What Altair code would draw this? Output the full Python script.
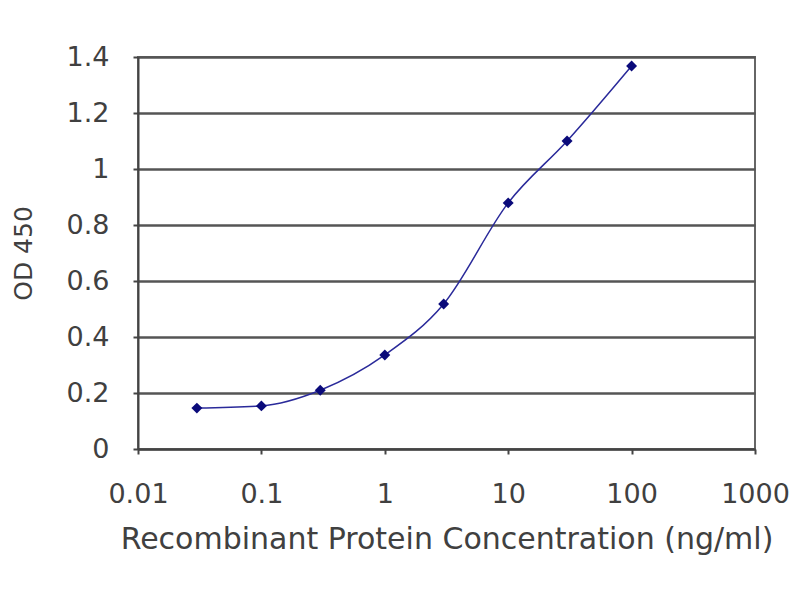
import altair as alt
import pandas as pd

conc = [0.03, 0.1, 0.3, 1, 3, 10, 30, 100]
od = [0.146, 0.154, 0.21, 0.336, 0.518, 0.879, 1.10, 1.368]

x_ticks = [0.01, 0.1, 1, 10, 100, 1000]
y_ticks = [0, 0.2, 0.4, 0.6, 0.8, 1.0, 1.2, 1.4]

df = pd.DataFrame({"conc": conc, "od": od})

FONT = "DejaVu Sans"
TXT = "#404040"
FS = 27

x_enc = alt.X(
    "conc:Q",
    scale=alt.Scale(type="log", domain=[0.01, 1000]),
    axis=alt.Axis(
        title="Recombinant Protein Concentration (ng/ml)",
        values=x_ticks,
        format="~g",
        grid=False,
        domainColor="#444444",
        domainWidth=2,
        tickColor="#444444",
        tickWidth=2,
        tickSize=5,
        labelFont=FONT,
        labelFontSize=FS,
        labelColor=TXT,
        labelPadding=27,
        titleFont=FONT,
        titleFontSize=30,
        titleFontWeight="normal",
        titleColor=TXT,
        titlePadding=17,
        labelFlush=False,
    ),
)

y_enc = alt.Y(
    "od:Q",
    scale=alt.Scale(domain=[0, 1.4]),
    axis=alt.Axis(
        title="OD 450",
        values=y_ticks,
        format="~g",
        grid=True,
        gridColor="#555555",
        gridWidth=2.5,
        domainColor="#444444",
        domainWidth=2,
        tickColor="#444444",
        tickWidth=2,
        tickSize=5,
        labelFont=FONT,
        labelFontSize=FS,
        labelColor=TXT,
        labelPadding=24,
        titleFont=FONT,
        titleFontSize=25,
        titleFontWeight="normal",
        titleColor=TXT,
        titlePadding=30,
    ),
)

line = alt.Chart(df).mark_line(
    color="#2a2a9a", strokeWidth=1.5, interpolate="monotone"
).encode(x=x_enc, y=y_enc)

pts = alt.Chart(df).mark_point(
    shape="diamond", filled=True, color="#0a0a7a", size=120, opacity=1
).encode(x="conc:Q", y="od:Q")

chart = (
    alt.layer(line, pts)
    .properties(
        width=617,
        height=392,
        autosize=alt.AutoSizeParams(type="none"),
        padding={"left": 130, "top": 49, "right": 37, "bottom": 143},
        background="white",
    )
    .configure_view(stroke="#666666", strokeWidth=2)
)

chart.save("out.html", embed_options={"renderer": "svg", "actions": False})
